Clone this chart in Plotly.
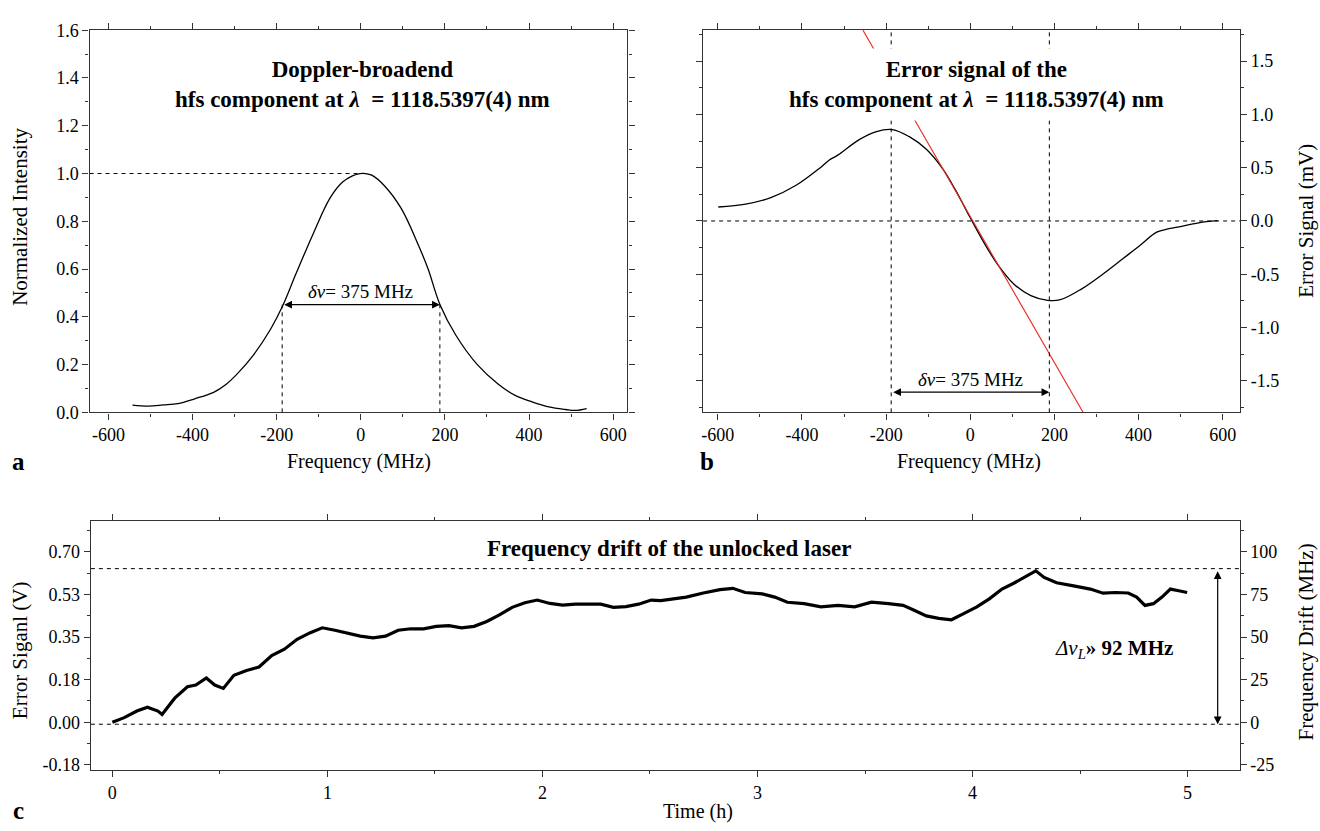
import plotly.graph_objects as go

# ---------------- data ----------------
# panel a: Doppler-broadened absorption profile
freq_a = [-543, -505, -470, -435, -395, -350, -320, -295, -255, -214, -186, -154, -114,
          -74, -44, -20, -2, 12, 26, 56, 96, 136, 160, 188, 226, 277, 327, 367, 407, 447, 487, 510, 537]
intens_a = [0.030, 0.026, 0.031, 0.037, 0.057, 0.084, 0.118, 0.159, 0.241, 0.350, 0.445, 0.581, 0.745,
            0.895, 0.963, 0.990, 1.000, 1.000, 0.993, 0.949, 0.854, 0.704, 0.600, 0.452, 0.323, 0.200, 0.118,
            0.071, 0.044, 0.023, 0.012, 0.008, 0.016]

# panel b: error signal
freq_b = [-599, -534, -474, -414, -355, -335, -315, -265, -225, -185, -145, -105, -65, -35, 0,
          34, 64, 104, 144, 184, 214, 264, 314, 364, 404, 443, 470, 493, 543, 588]
signal_b = [0.131, 0.158, 0.219, 0.335, 0.505, 0.572, 0.618, 0.761, 0.837, 0.858, 0.791, 0.675, 0.487,
            0.289, 0.030, -0.213, -0.402, -0.593, -0.700, -0.745, -0.739, -0.639, -0.502, -0.350,
            -0.228, -0.105, -0.075, -0.058, -0.017, 0.003]
fit_freq = [-260, 275]
fit_signal = [1.824, -1.843]

# panel c: drift of the unlocked laser
time_c = [0.0, 0.055, 0.114, 0.163, 0.212, 0.231, 0.29, 0.349, 0.388, 0.437, 0.476, 0.516, 0.565,
          0.624, 0.682, 0.741, 0.8, 0.859, 0.918, 0.976, 1.035, 1.094, 1.153, 1.212, 1.27, 1.329,
          1.388, 1.447, 1.506, 1.565, 1.624, 1.682, 1.741, 1.8, 1.859, 1.918, 1.976, 2.035, 2.094,
          2.153, 2.212, 2.271, 2.33, 2.388, 2.447, 2.506, 2.55, 2.669, 2.748, 2.826, 2.885, 2.943,
          3.022, 3.08, 3.139, 3.217, 3.295, 3.374, 3.452, 3.53, 3.609, 3.677, 3.726, 3.785, 3.843,
          3.902, 3.961, 4.02, 4.078, 4.137, 4.196, 4.254, 4.294, 4.333, 4.391, 4.47, 4.548, 4.607,
          4.665, 4.724, 4.763, 4.802, 4.841, 4.881, 4.92, 4.959, 4.998]
volt_c = [0.000, 0.019, 0.046, 0.062, 0.046, 0.032, 0.099, 0.146, 0.153, 0.182, 0.153, 0.139, 0.193,
          0.213, 0.227, 0.274, 0.300, 0.341, 0.367, 0.388, 0.378, 0.367, 0.354, 0.347, 0.354, 0.378,
          0.384, 0.384, 0.394, 0.397, 0.388, 0.394, 0.414, 0.441, 0.472, 0.491, 0.502, 0.488, 0.481,
          0.485, 0.485, 0.485, 0.472, 0.475, 0.485, 0.502, 0.500, 0.514, 0.531, 0.545, 0.550, 0.533,
          0.527, 0.514, 0.493, 0.487, 0.474, 0.480, 0.474, 0.493, 0.487, 0.480, 0.461, 0.437, 0.427,
          0.421, 0.447, 0.474, 0.507, 0.547, 0.573, 0.600, 0.622, 0.595, 0.573, 0.560, 0.547, 0.530,
          0.533, 0.531, 0.514, 0.480, 0.487, 0.514, 0.547, 0.540, 0.533]

# tick labels (hyphen minus as in the reference)
freq_ticks = [-600, -400, -200, 0, 200, 400, 600]
freq_ticks_txt = ["-600", "-400", "-200", "0", "200", "400", "600"]
b_ticks = [-1.5, -1.0, -0.5, 0.0, 0.5, 1.0, 1.5]
b_ticks_txt = ["-1.5", "-1.0", "-0.5", "0.0", "0.5", "1.0", "1.5"]
c_ticks_v = [-0.175, 0.0, 0.175, 0.35, 0.525, 0.70]
c_ticks_txt = ["-0.18", "0.00", "0.18", "0.35", "0.53", "0.70"]
c_ticks_mhz = [-25, 0, 25, 50, 75, 100]
c_ticks_mhz_txt = ["-25", "0", "25", "50", "75", "100"]
MHZ_PER_VOLT = 25 / 0.175
drift_top_v = 0.631
drift_bottom_v = -0.008

FWHM_L, FWHM_R = -187, 188

# ---------------- layout helpers ----------------
W, H = 1320, 831
FONT = "Liberation Serif"
TICK = 18
AX_T = 20

def px_x(p):
    return p / W

def px_y(p):
    return 1 - p / H

axis_common = dict(showline=True, linecolor="#333", linewidth=1.3, ticks="outside", ticklen=6,
                   tickwidth=1.2, tickcolor="#333", mirror="ticks", showgrid=False, zeroline=False,
                   tickfont=dict(family=FONT, size=TICK, color="black"))
minor_style = dict(ticks="outside", ticklen=3, tickcolor="#333", tickwidth=1)

fig = go.Figure()

fig.add_trace(go.Scatter(x=freq_a, y=intens_a, mode="lines", line=dict(color="black", width=1.3, shape="spline"),
                         xaxis="x", yaxis="y", showlegend=False))
fig.add_trace(go.Scatter(x=freq_b, y=signal_b, mode="lines", line=dict(color="black", width=1.3, shape="spline"),
                         xaxis="x2", yaxis="y2", showlegend=False))
fig.add_trace(go.Scatter(x=fit_freq, y=fit_signal, mode="lines", line=dict(color="#e8281e", width=1.1),
                         xaxis="x2", yaxis="y2", showlegend=False))
fig.add_trace(go.Scatter(x=time_c, y=volt_c, mode="lines", line=dict(color="black", width=3.2),
                         xaxis="x3", yaxis="y3", showlegend=False))
# same drift expressed in MHz on the right-hand axis (invisible, it only carries the axis)
fig.add_trace(go.Scatter(x=time_c, y=[v * MHZ_PER_VOLT for v in volt_c], mode="lines",
                         line=dict(color="rgba(0,0,0,0)", width=0), hoverinfo="skip",
                         xaxis="x3", yaxis="y4", showlegend=False))

xr_a = [-645, 634]
xr_b = [-635, 641]
yr_b = [-1.796, 1.79]
yr_c = [-0.197, 0.825]

fig.update_layout(
    width=W, height=H, margin=dict(l=0, r=0, t=0, b=0),
    paper_bgcolor="white", plot_bgcolor="white",
    font=dict(family=FONT, color="black"),
    xaxis=dict(domain=[px_x(87.7), px_x(626.4)], range=xr_a, anchor="y", tickmode="array",
               tickvals=freq_ticks, ticktext=freq_ticks_txt,
               minor=dict(tick0=0, dtick=100, **minor_style), **axis_common),
    yaxis=dict(domain=[px_y(412.3), px_y(20.7)], range=[0, 1.6], anchor="x", dtick=0.2, tick0=0,
               tickformat=".1f", minor=dict(tick0=0, dtick=0.1, **minor_style), **axis_common),
    xaxis2=dict(domain=[px_x(702.2), px_x(1239.8)], range=xr_b, anchor="y2", tickmode="array",
                tickvals=freq_ticks, ticktext=freq_ticks_txt,
                minor=dict(tick0=0, dtick=100, **minor_style), **axis_common),
    yaxis2=dict(domain=[px_y(412.3), px_y(20.7)], range=yr_b, anchor="x2", side="right",
                tickmode="array", tickvals=b_ticks, ticktext=b_ticks_txt,
                minor=dict(tick0=0, dtick=0.25, **minor_style), **axis_common),
    xaxis3=dict(domain=[px_x(89), px_x(1239.5)], range=[-0.1, 5.242], anchor="y3", dtick=1, tick0=0,
                minor=dict(tick0=0, dtick=0.5, **minor_style), **axis_common),
    yaxis3=dict(domain=[px_y(779), px_y(524)], range=yr_c, anchor="x3", tickmode="array",
                tickvals=c_ticks_v, ticktext=c_ticks_txt,
                minor=dict(tick0=0, dtick=0.0875, **minor_style),
                **{**axis_common, "mirror": False}),
    yaxis4=dict(range=[yr_c[0] * MHZ_PER_VOLT, yr_c[1] * MHZ_PER_VOLT],
                anchor="x3", overlaying="y3", side="right", tickmode="array",
                tickvals=c_ticks_mhz, ticktext=c_ticks_mhz_txt,
                minor=dict(tick0=0, dtick=12.5, **minor_style),
                **{**axis_common, "mirror": False}),
)

dash = dict(color="black", width=1, dash="4px,4px")
shapes = [
    # panel a
    dict(type="line", xref="x", yref="y", x0=xr_a[0], x1=0, y0=1.0, y1=1.0, line=dash),
    dict(type="line", xref="x", yref="y", x0=FWHM_L, x1=FWHM_L, y0=0, y1=0.451, line=dash),
    dict(type="line", xref="x", yref="y", x0=FWHM_R, x1=FWHM_R, y0=0, y1=0.451, line=dash),
    # panel b
    dict(type="line", xref="x2 domain", yref="y2", x0=0, x1=1, y0=0, y1=0, line=dash),
    dict(type="line", xref="x2", yref="y2 domain", x0=-188, x1=-188, y0=0, y1=1, line=dash),
    dict(type="line", xref="x2", yref="y2 domain", x0=188, x1=188, y0=0, y1=1, line=dash),
    # panel c
    dict(type="line", xref="x3 domain", yref="y3", x0=0, x1=1, y0=drift_top_v, y1=drift_top_v, line=dash),
    dict(type="line", xref="x3 domain", yref="y3", x0=0, x1=1, y0=drift_bottom_v, y1=drift_bottom_v, line=dash),
]
fig.update_layout(shapes=shapes)

title_font = dict(family=FONT, size=23, color="black")
C = dict(xanchor="center", yanchor="middle", showarrow=False)
ann = []
# titles
ann.append(dict(xref="x", yref="y", x=3, y=1.373, font=title_font,
                text="<b>Doppler-broadend<br>hfs component at <i>λ</i>  = 1118.5397(4) nm</b>", **C))
ann.append(dict(xref="x2", yref="y2", x=16, y=1.283, font=title_font, bgcolor="white", borderpad=8,
                text="<b>Error signal of the<br>hfs component at <i>λ</i>  = 1118.5397(4) nm</b>", **C))
ann.append(dict(xref="x3", yref="y3", x=2.59, y=0.715, font=title_font,
                text="<b>Frequency drift of the unlocked laser</b>", **C))
# FWHM arrows and the drift arrow
arrow = dict(showarrow=True, arrowhead=2, startarrowhead=2, arrowside="end+start", arrowsize=1.3,
             arrowwidth=1.2, arrowcolor="black", text=" ", standoff=0, startstandoff=0,
             font=dict(size=2))
ann.append(dict(xref="x", yref="y", axref="x", ayref="y", x=FWHM_R, y=0.451, ax=FWHM_L, ay=0.451, **arrow))
ann.append(dict(xref="x2", yref="y2", axref="x2", ayref="y2", x=188, y=-1.606, ax=-188, ay=-1.606, **arrow))
ann.append(dict(xref="x3", yref="y3", axref="x3", ayref="y3", x=5.14, y=drift_bottom_v, ax=5.14,
                ay=drift_top_v, **arrow))
lab_font = dict(family=FONT, size=19, color="black")
ann.append(dict(xref="x", yref="y", x=0, y=0.504, font=lab_font, text="<i>δν</i>= 375 MHz", **C))
ann.append(dict(xref="x2", yref="y2", x=0, y=-1.49, font=lab_font, text="<i>δν</i>= 375 MHz", **C))
ann.append(dict(xref="x3", yref="y3", x=4.66, y=0.300, font=dict(family=FONT, size=21, color="black"),
                text="<i>Δν</i><sub><i>L</i></sub><b>» 92 MHz</b>", **C))
# axis titles
ax_font = dict(family=FONT, size=AX_T, color="black")
rot_font = dict(family=FONT, size=21, color="black")
ann.append(dict(xref="paper", yref="paper", x=px_x(358), y=px_y(463), font=ax_font,
                text="Frequency (MHz)", **C))
ann.append(dict(xref="paper", yref="paper", x=px_x(968), y=px_y(463), font=ax_font,
                text="Frequency (MHz)", **C))
ann.append(dict(xref="paper", yref="paper", x=px_x(697), y=px_y(821), font=ax_font,
                text="Time (h)", **C))
ann.append(dict(xref="paper", yref="paper", x=px_x(18), y=px_y(212), font=rot_font,
                textangle=-90, text="Normalized Intensity", **C))
ann.append(dict(xref="paper", yref="paper", x=px_x(1306), y=px_y(216), font=rot_font,
                textangle=-90, text="Error Signal (mV)", **C))
ann.append(dict(xref="paper", yref="paper", x=px_x(18), y=px_y(656), font=rot_font,
                textangle=-90, text="Error Siganl (V)", **C))
ann.append(dict(xref="paper", yref="paper", x=px_x(1306), y=px_y(648), font=rot_font,
                textangle=-90, text="Frequency Drift (MHz)", **C))
# panel letters
pl_font = dict(family=FONT, size=25, color="black")
for letter, xp, yp in [("a", 17, 463), ("b", 706, 463), ("c", 17, 820)]:
    ann.append(dict(xref="paper", yref="paper", x=px_x(xp), y=px_y(yp), font=pl_font,
                    text=f"<b>{letter}</b>", **C))
fig.update_layout(annotations=ann)

fig.write_html("out.html", config={"displayModeBar": False},
               post_script="document.body.style.margin='0px';document.body.style.overflow='hidden';")
